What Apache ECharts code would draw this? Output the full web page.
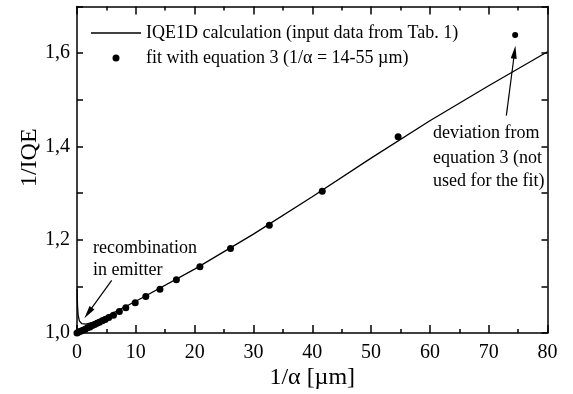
<!DOCTYPE html>
<html>
<head>
<meta charset="utf-8">
<script src="https://cdn.jsdelivr.net/npm/echarts@6/dist/echarts.min.js"></script>
<style>
  html, body { margin: 0; padding: 0; background: #fff; }
  #chart { width: 573px; height: 394px; }
</style>
</head>
<body>
<div id="chart"></div>
<script>
// IQE1D calculation curve (1/alpha in um, 1/IQE)
var calcX = [0.02, 0.06, 0.1, 0.2, 0.4, 0.8, 1.5, 3, 5, 10, 20, 30, 40, 50, 60, 70, 80];
var calcY = [1.095, 1.07, 1.055, 1.038, 1.026, 1.020, 1.019, 1.024, 1.036, 1.068, 1.137, 1.212, 1.292, 1.375, 1.455, 1.530, 1.603];

// points used for the fit (equation 3)
var fitX = [0, 0.3, 0.6, 1.0, 1.4, 1.8, 2.2, 2.6, 3.0, 3.4, 3.8, 4.3, 4.8, 5.4, 6.2, 7.2, 8.3, 9.9, 11.7, 14.1, 16.9, 20.9, 26.1, 32.7, 41.7, 54.6];
var fitY = [1.0, 1.002, 1.004, 1.006, 1.008, 1.011, 1.013, 1.016, 1.018, 1.021, 1.023, 1.026, 1.029, 1.033, 1.038, 1.046, 1.054, 1.065, 1.078, 1.094, 1.114, 1.142, 1.181, 1.231, 1.304, 1.421];

// point not used for the fit
var devX = [74.5];
var devY = [1.639];

var lineName = 'IQE1D calculation (input data from Tab. 1)';
var fitName = 'fit with equation 3 (1/\u03b1 = 14-55 \u00b5m)';

function pairs(xs, ys) {
    var out = [];
    for (var i = 0; i < xs.length; i++) out.push([xs[i], ys[i]]);
    return out;
}

var font = 'Liberation Serif';
var txt = '18px "Liberation Serif"';

var myChart = echarts.init(document.getElementById('chart'));

var baseX = {
    type: 'value',
    min: 0,
    max: 80,
    interval: 10,
    splitLine: { show: false },
    axisLine: { onZero: false, lineStyle: { color: '#000', width: 1.5 } },
    axisTick: { inside: true, length: 8, lineStyle: { color: '#000', width: 1.5 } },
    minorTick: { show: true, splitNumber: 2, length: 4, lineStyle: { color: '#000', width: 1.5 } },
    minorSplitLine: { show: false }
};
var baseY = {
    type: 'value',
    min: 1.0,
    max: 1.7,
    interval: 0.1,
    splitLine: { show: false },
    axisLine: { onZero: false, lineStyle: { color: '#000', width: 1.5 } },
    axisTick: { inside: true, length: 6, lineStyle: { color: '#000', width: 1.5 } }
};

myChart.setOption({
    animation: false,
    grid: { left: 77, right: 25.5, top: 6.5, bottom: 61, containLabel: false, outerBoundsMode: 'none' },
    legend: {
        orient: 'vertical',
        left: 91,
        top: 24,
        padding: 0,
        itemWidth: 50,
        itemHeight: 7,
        itemGap: 7,
        textStyle: { fontFamily: font, fontSize: 18, color: '#000' },
        data: [
            { name: lineName, icon: 'path://M0,0h50v1.3h-50z' },
            { name: fitName, icon: 'circle' }
        ]
    },
    xAxis: [
        echarts.util.merge({
            position: 'bottom',
            name: '1/\u03b1 [\u00b5m]',
            nameLocation: 'middle',
            nameGap: 33,
            nameMoveOverlap: false,
            nameTextStyle: { fontFamily: font, fontSize: 24, color: '#000' },
            axisLabel: { margin: 10, fontFamily: font, fontSize: 20, color: '#000' }
        }, echarts.util.clone(baseX)),
        echarts.util.merge({
            position: 'top',
            axisLabel: { show: false }
        }, echarts.util.clone(baseX))
    ],
    yAxis: [
        echarts.util.merge({
            position: 'left',
            name: '1/IQE',
            nameLocation: 'middle',
            nameGap: 35,
            nameMoveOverlap: false,
            nameTextStyle: { fontFamily: font, fontSize: 24, color: '#000', padding: [0, 0, 0, 24] },
            axisLabel: {
                margin: 7,
                fontFamily: font,
                fontSize: 20,
                color: '#000',
                formatter: function (v) {
                    var t = Math.round(v * 10);
                    if (t % 2 !== 0) return '';
                    return (t / 10).toFixed(1).replace('.', ',');
                }
            }
        }, echarts.util.clone(baseY)),
        echarts.util.merge({
            position: 'right',
            axisLabel: { show: false }
        }, echarts.util.clone(baseY))
    ],
    series: [
        {
            name: lineName,
            type: 'line',
            symbol: 'none',
            data: pairs(calcX, calcY),
            lineStyle: { color: '#000', width: 1.3 },
            itemStyle: { color: '#000' },
            markLine: {
                silent: true,
                symbol: ['none', 'triangle'],
                symbolSize: [6, 13],
                label: { show: false },
                lineStyle: { color: '#000', width: 1.2, type: 'solid' },
                data: [
                    [{ coord: [5.9, 1.113] }, { coord: [1.9, 1.043] }],
                    [{ coord: [73.0, 1.466] }, { coord: [74.4, 1.602] }]
                ]
            }
        },
        {
            name: fitName,
            type: 'scatter',
            symbol: 'circle',
            symbolSize: 7,
            clip: false,
            data: pairs(fitX, fitY),
            itemStyle: { color: '#000', opacity: 1 }
        },
        {
            name: 'deviation',
            type: 'scatter',
            symbol: 'circle',
            symbolSize: 6,
            data: pairs(devX, devY),
            itemStyle: { color: '#000', opacity: 1 }
        }
    ],
    graphic: [
        { type: 'text', left: 93, top: 239, style: { text: 'recombination', font: txt, fill: '#000' } },
        { type: 'text', left: 93, top: 261, style: { text: 'in emitter', font: txt, fill: '#000' } },
        { type: 'text', left: 433, top: 124, style: { text: 'deviation from', font: txt, fill: '#000' } },
        { type: 'text', left: 433, top: 149, style: { text: 'equation 3 (not', font: txt, fill: '#000' } },
        { type: 'text', left: 433, top: 172, style: { text: 'used for the fit)', font: txt, fill: '#000' } }
    ]
});
</script>
</body>
</html>
